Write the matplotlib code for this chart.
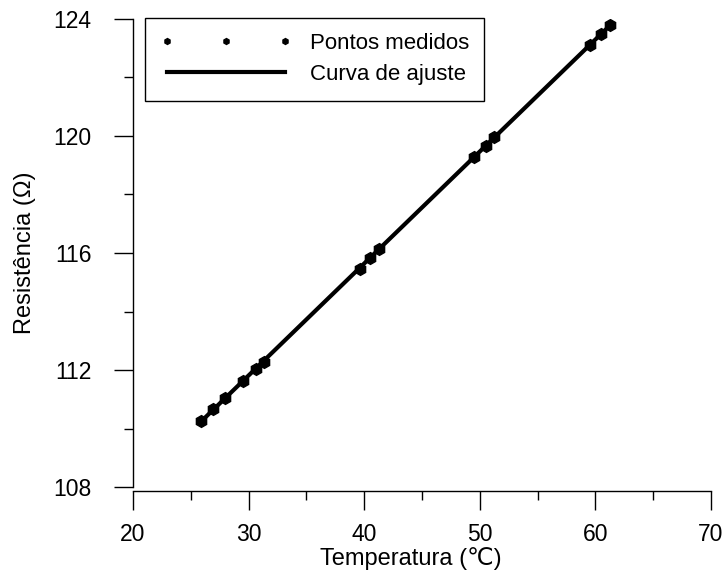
import matplotlib
matplotlib.use('Agg')
import matplotlib.pyplot as plt
import numpy as np
from matplotlib.ticker import MultipleLocator

temperatura = [25.9, 26.9, 28.0, 29.5, 30.6, 31.3,
               39.6, 40.5, 41.3,
               49.5, 50.5, 51.2,
               59.5, 60.5, 61.3]
resistencia = [110.27, 110.67, 111.03, 111.63, 112.02, 112.28,
               115.45, 115.82, 116.14,
               119.27, 119.67, 119.96,
               123.11, 123.49, 123.79]

x_ticks = [20, 30, 40, 50, 60, 70]
y_ticks = [108, 112, 116, 120, 124]

plt.rcParams['font.family'] = ['Liberation Sans', 'DejaVu Sans']

fig = plt.figure(figsize=(7.25, 5.75), dpi=100)
ax = fig.add_axes([0.1834, 0.153, 0.7973, 0.814])

# fit line over measured range
coef = np.polyfit(temperatura, resistencia, 1)
t_fit = np.array([min(temperatura), max(temperatura)])
r_fit = np.polyval(coef, t_fit)

ax.plot(temperatura, resistencia, linestyle='none', marker='h', markersize=8.5,
        color='black', label='Pontos medidos', zorder=3)
ax.plot(t_fit, r_fit, color='black', linewidth=3, label='Curva de ajuste', zorder=2)

ax.set_xlim(20, 70)
ax.set_ylim(108, 124)
ax.set_xticks(x_ticks)
ax.set_yticks(y_ticks)
ax.xaxis.set_minor_locator(MultipleLocator(5))
ax.yaxis.set_minor_locator(MultipleLocator(2))

ax.spines['top'].set_visible(False)
ax.spines['right'].set_visible(False)
ax.spines['bottom'].set_position(('outward', 3))
for s in ('left', 'bottom'):
    ax.spines[s].set_linewidth(1.0)

ax.tick_params(which='major', direction='out', length=14, width=1.0, labelsize=16.5)
ax.tick_params(axis='x', which='major', pad=9)
ax.tick_params(axis='y', which='major', pad=16)
ax.tick_params(which='minor', direction='out', length=6.5, width=1.0)

ax.set_xlabel('Temperatura (℃)', fontsize=17)
ax.xaxis.set_label_coords(0.481, -0.128)
ax.set_ylabel('Resistência (Ω)', fontsize=17, labelpad=12)

leg = ax.legend(loc='upper left', bbox_to_anchor=(0.021, 1.003), borderaxespad=0,
                numpoints=3, markerscale=0.5, fontsize=16, handlelength=5.9,
                handletextpad=0.8, fancybox=False, framealpha=1,
                edgecolor='black', borderpad=0.7, labelspacing=0.45)
leg.get_frame().set_linewidth(1.0)

fig.savefig('out.png', dpi=100)
